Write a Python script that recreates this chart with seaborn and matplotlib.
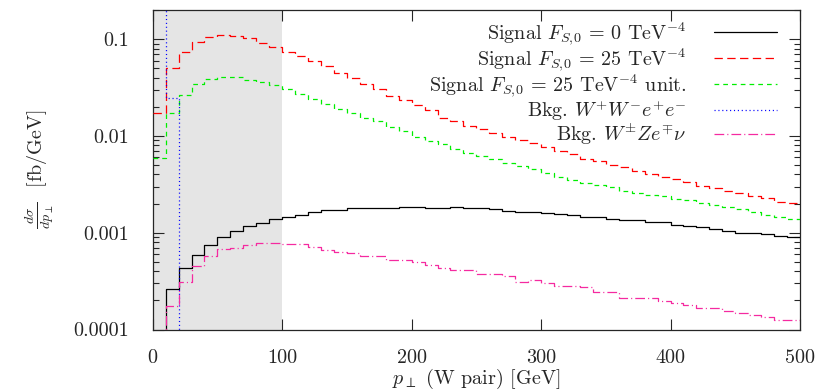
#Script for the W pair transverse momentum distribution

import numpy as np
import pandas as pd
import matplotlib
matplotlib.use("Agg")
import matplotlib.pyplot as plt
import seaborn as sns

#Bin edges (10 GeV bins from 0 to 500)
bin_lo = list(range(0, 500, 10))

#dsigma/dpT per bin [fb/GeV]
signal_f0 = [0, 2.63e-4, 4.31e-4, 5.91e-4, 7.45e-4, 9.14e-4, 1.05e-3, 1.18e-3, 1.27e-3, 1.38e-3,
             1.45e-3, 1.54e-3, 1.62e-3, 1.70e-3, 1.72e-3, 1.80e-3, 1.80e-3, 1.80e-3, 1.80e-3, 1.85e-3,
             1.85e-3, 1.81e-3, 1.81e-3, 1.83e-3, 1.78e-3, 1.78e-3, 1.74e-3, 1.68e-3, 1.63e-3, 1.63e-3,
             1.59e-3, 1.56e-3, 1.54e-3, 1.47e-3, 1.47e-3, 1.39e-3, 1.35e-3, 1.34e-3, 1.30e-3, 1.28e-3,
             1.21e-3, 1.18e-3, 1.14e-3, 1.10e-3, 1.05e-3, 1.005e-3, 9.91e-4, 9.68e-4, 9.29e-4, 9.14e-4]

signal_f25 = [0.0172, 0.0501, 0.0745, 0.0945, 0.105, 0.110, 0.109, 0.102, 0.0923, 0.0827,
              0.0745, 0.0672, 0.0597, 0.0530, 0.0452, 0.0396, 0.0345, 0.0304, 0.0259, 0.0236,
              0.0210, 0.0187, 0.0154, 0.0143, 0.0127, 0.0118, 0.0108, 0.0098, 0.0091, 0.0084,
              0.0076, 0.0070, 0.00645, 0.00576, 0.00557, 0.00503, 0.00476, 0.00436, 0.00406, 0.00375,
              0.00358, 0.00333, 0.00305, 0.00288, 0.00271, 0.00258, 0.00240, 0.00228, 0.00210, 0.00202]

signal_f25_unit = [0.0059, 0.0172, 0.0266, 0.0345, 0.0386, 0.0405, 0.0410, 0.0380, 0.0362, 0.0332,
                   0.0307, 0.0272, 0.0242, 0.0212, 0.0190, 0.0172, 0.0154, 0.0142, 0.0125, 0.0113,
                   0.00986, 0.00889, 0.00828, 0.00727, 0.00661, 0.00623, 0.00573, 0.00527, 0.00491, 0.00452,
                   0.00413, 0.00378, 0.00352, 0.00327, 0.00312, 0.00298, 0.00273, 0.00260, 0.00246, 0.00237,
                   0.00222, 0.00216, 0.00204, 0.00194, 0.00185, 0.00175, 0.00162, 0.00153, 0.00147, 0.00138]

bkg_wwee = [1.0, 0.0246] + [0] * 48

bkg_wzev = [0, 1.73e-4, 3.13e-4, 4.58e-4, 5.77e-4, 6.82e-4, 7.0e-4, 7.5e-4, 7.81e-4, 7.8e-4,
            7.67e-4, 7.67e-4, 7.1e-4, 6.66e-4, 6.39e-4, 6.24e-4, 5.77e-4, 5.77e-4, 5.25e-4, 5.25e-4,
            4.97e-4, 4.66e-4, 4.37e-4, 4.14e-4, 4.14e-4, 3.76e-4, 3.76e-4, 3.53e-4, 3.13e-4, 3.26e-4,
            3.06e-4, 2.84e-4, 2.84e-4, 2.74e-4, 2.43e-4, 2.43e-4, 2.14e-4, 2.14e-4, 2.14e-4, 1.99e-4,
            1.90e-4, 1.80e-4, 1.65e-4, 1.65e-4, 1.56e-4, 1.48e-4, 1.42e-4, 1.36e-4, 1.26e-4, 1.26e-4]

labels = [r"Signal $F_{S,\!0}$ = 0 TeV$^{-4}$",
          r"Signal $F_{S,\!0}$ = 25 TeV$^{-4}$",
          r"Signal $F_{S,\!0}$ = 25 TeV$^{-4}$ unit.",
          r"Bkg. $W^{+}W^{-}e^{+}e^{-}$",
          r"Bkg. $W^{\pm}Ze^{\mp}\nu$"]

y_ticks = [1e-4, 1e-3, 1e-2, 1e-1]
y_tick_labels = ["0.0001", "0.001", "0.01", "0.1"]
x_ticks = [0, 100, 200, 300, 400, 500]

FS = 14.5


def step_frame(values):
    #Repeat the last bin so the final step reaches x=500
    return pd.DataFrame({"pt": bin_lo + [500], "val": list(values) + [values[-1]]})


sns.set_style("ticks")
plt.rcParams["font.family"] = "serif"
plt.rcParams["font.serif"] = ["cmr10", "DejaVu Serif"]
plt.rcParams["mathtext.fontset"] = "cm"
plt.rcParams["axes.formatter.use_mathtext"] = True
plt.rcParams["lines.scale_dashes"] = False

fig = plt.figure(figsize=(8.29, 3.92), dpi=100)
ax = fig.add_axes([0.1842, 0.1594, 0.965 - 0.1842, 0.9745 - 0.1594])

#Shaded cut region
ax.axvspan(0, 100, color="#e5e5e5", lw=0, zorder=0)

series = [
    (signal_f0, "black", "-"),
    (signal_f25, "#ff0000", (0, (6.0, 3.2))),
    (signal_f25_unit, "#00ee00", (0, (3.4, 2.9))),
    (bkg_wwee, "#0000ff", (0, (0.8, 2.0))),
    (bkg_wzev, "#f52aa0", (0, (7.0, 2.2, 0.8, 2.2))),
]

for (vals, color, ls), lab in zip(series, labels):
    sns.lineplot(data=step_frame(vals), x="pt", y="val", ax=ax, color=color,
                 linestyle=ls, linewidth=0.9, drawstyle="steps-post",
                 errorbar=None, label=lab, zorder=3)

ax.set_yscale("log")
ax.set_xlim(0, 500)
ax.set_ylim(1e-4, 0.2)
ax.set_xticks(x_ticks)
ax.set_xticklabels([str(t) for t in x_ticks])
ax.set_yticks(y_ticks)
ax.set_yticklabels(y_tick_labels)
ax.tick_params(axis="x", which="major", direction="in", length=8, width=0.8,
               top=True, labelsize=FS, pad=14)
ax.tick_params(axis="y", which="major", direction="in", length=8, width=0.8,
               right=True, labelsize=FS, pad=17)
ax.tick_params(axis="y", which="minor", direction="in", length=4.5, width=0.8, right=True)
ax.tick_params(axis="x", which="minor", bottom=False, top=False)
for sp in ax.spines.values():
    sp.set_linewidth(0.9)

ax.set_xlabel(r"$p_{\perp}$ (W pair) [GeV]", fontsize=FS, labelpad=0)
ax.set_ylabel(r"$\frac{d\sigma}{dp_{\perp}}$  [fb/GeV]", fontsize=FS, labelpad=12)

leg = ax.legend(loc="upper right", frameon=False, markerfirst=False, fontsize=FS,
                handlelength=3.1, handletextpad=1.4, labelspacing=-0.07,
                borderaxespad=0.2, bbox_to_anchor=(0.983, 1.006))

fig.savefig("out.png", dpi=100)
